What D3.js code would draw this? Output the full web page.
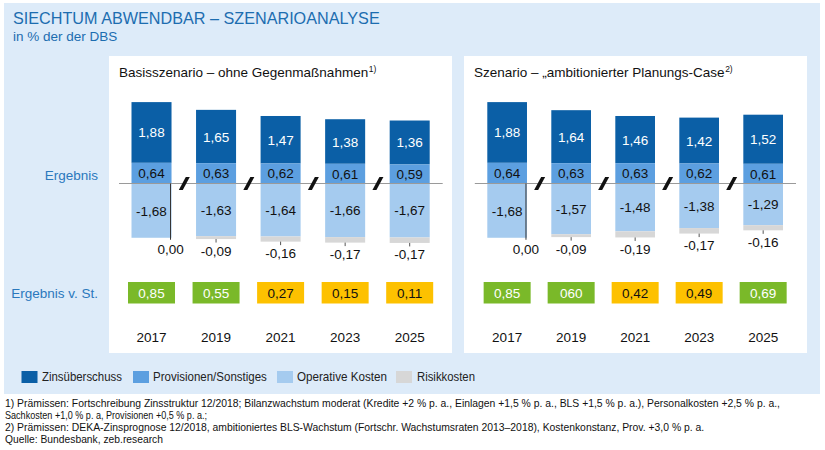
<!DOCTYPE html>
<html><head><meta charset="utf-8">
<script src="https://cdn.jsdelivr.net/npm/d3@7/dist/d3.min.js"></script>
<style>
html,body{margin:0;padding:0;background:#fff;}
svg{display:block;font-family:"Liberation Sans",Arial,sans-serif;}
</style></head>
<body>
<svg id="chart" width="825" height="450"></svg>
<script>
// ---------- DATA ----------
const years = ["2017", "2019", "2021", "2023", "2025"];

const zinsBase = [1.88, 1.65, 1.47, 1.38, 1.36];
const provBase = [0.64, 0.63, 0.62, 0.61, 0.59];
const opkBase  = [-1.68, -1.63, -1.64, -1.66, -1.67];
const riskBase = [0.00, -0.09, -0.16, -0.17, -0.17];
const resBase  = [0.85, 0.55, 0.27, 0.15, 0.11];
const resBaseLabels = ["0,85", "0,55", "0,27", "0,15", "0,11"];

const zinsAmb = [1.88, 1.64, 1.46, 1.42, 1.52];
const provAmb = [0.64, 0.63, 0.63, 0.62, 0.61];
const opkAmb  = [-1.68, -1.57, -1.48, -1.38, -1.29];
const riskAmb = [0.00, -0.09, -0.19, -0.17, -0.16];
const resAmb  = [0.85, 0.60, 0.42, 0.49, 0.69];
const resAmbLabels = ["0,85", "060", "0,42", "0,49", "0,69"];

const legendLabels = ["Zinsüberschuss", "Provisionen/Sonstiges", "Operative Kosten", "Risikkosten"];
const footnotes = [
  "1) Prämissen: Fortschreibung Zinsstruktur 12/2018; Bilanzwachstum moderat (Kredite +2 % p. a., Einlagen +1,5 % p. a., BLS +1,5 % p. a.), Personalkosten +2,5 % p. a.,",
  "Sachkosten +1,0 % p. a, Provisionen +0,5 % p. a.;",
  "2) Prämissen: DEKA-Zinsprognose 12/2018, ambitioniertes BLS-Wachstum (Fortschr. Wachstumsraten 2013–2018), Kostenkonstanz, Prov. +3,0 % p. a.",
  "Quelle: Bundesbank, zeb.research"
];

// ---------- STYLE ----------
const C = {
  zins: "#0b5fa6", prov: "#5c9fe0", opk: "#a5cbef", risk: "#d7d7d7",
  green: "#7ab929", yellow: "#fdc100", bg: "#ddebf9", blue: "#2a78bd", title: "#1c6db0"
};
const fmt = v => v.toFixed(2).replace(".", ",");

const svg = d3.select("#chart");

// squeeze a text horizontally to a target width (narrow-font look)
function squeeze(sel, x0, targetW) {
  const w = sel.node().getComputedTextLength();
  const k = Math.min(1, targetW / w);
  sel.attr("x", 0).attr("transform", `translate(${x0},0) scale(${k},1)`);
}

// outer background
svg.append("rect").attr("x", 4).attr("y", 3).attr("width", 816).attr("height", 391).attr("fill", C.bg);

svg.append("text").attr("x", 13).attr("y", 24).attr("font-size", 16.2).attr("fill", C.title)
  .text("SIECHTUM ABWENDBAR – SZENARIOANALYSE");
svg.append("text").attr("x", 13).attr("y", 41).attr("font-size", 13.5).attr("fill", C.title)
  .text("in % der der DBS");

// row labels
svg.append("text").attr("x", 98).attr("y", 180).attr("text-anchor", "end").attr("font-size", 13.5)
  .attr("fill", C.blue).text("Ergebnis");
svg.append("text").attr("x", 98).attr("y", 298).attr("text-anchor", "end").attr("font-size", 13.5)
  .attr("fill", C.blue).text("Ergebnis v. St.");

const y = d3.scaleLinear().domain([-2, 3]).range([183.5 + 2 * 32.3, 183.5 - 3 * 32.3]);

const panels = [
  { title: "Basisszenario – ohne Gegenmaßnahmen", sup: "1)", px: 109, pw: 343, range: [131.5, 429.7],
    zins: zinsBase, prov: provBase, opk: opkBase, risk: riskBase, res: resBase, resLabels: resBaseLabels },
  { title: "Szenario – „ambitionierter Planungs-Case", sup: "2)", px: 464, pw: 343, range: [487.3, 783],
    zins: zinsAmb, prov: provAmb, opk: opkAmb, risk: riskAmb, res: resAmb, resLabels: resAmbLabels }
];

panels.forEach(p => {
  const g = svg.append("g");
  g.append("rect").attr("x", p.px).attr("y", 56).attr("width", p.pw).attr("height", 297).attr("fill", "#fff");

  const t = g.append("text").attr("x", p.px + 10).attr("y", 77).attr("font-size", 13.5).attr("fill", "#111");
  t.append("tspan").text(p.title);
  t.append("tspan").attr("font-size", 8.5).attr("dy", -5).attr("dx", 0.5).text(p.sup);

  const x = d3.scaleBand().domain(years).range(p.range).paddingInner(0.38).paddingOuter(0);
  const bw = x.bandwidth();
  const idx = years.map((d, i) => i);

  // segments
  const seg = (cls, color, lo, hi) => {
    g.selectAll("rect." + cls).data(idx).join("rect").attr("class", cls)
      .attr("x", i => x(years[i])).attr("width", bw)
      .attr("y", i => y(hi(i))).attr("height", i => Math.max(0, y(lo(i)) - y(hi(i))))
      .attr("fill", color);
  };
  seg("zins", C.zins, i => p.prov[i], i => p.prov[i] + p.zins[i]);
  seg("prov", C.prov, i => 0, i => p.prov[i]);
  seg("opk", C.opk, i => p.opk[i], i => 0);
  seg("risk", C.risk, i => p.opk[i] + p.risk[i], i => p.opk[i]);

  // zero line
  g.append("line").attr("x1", p.range[0] - 12.5).attr("x2", p.range[1] + 13)
    .attr("y1", y(0)).attr("y2", y(0)).attr("stroke", "#9a9a9a").attr("stroke-width", 1);

  // segment labels
  const lab = (vals, center, color) => {
    g.selectAll(null).data(idx).join("text")
      .attr("x", i => x(years[i]) + bw / 2).attr("y", i => y(center(i)) + 5)
      .attr("text-anchor", "middle").attr("font-size", 13.5).attr("fill", color)
      .text(i => fmt(vals[i]));
  };
  lab(p.zins, i => p.prov[i] + p.zins[i] / 2, "#fff");
  lab(p.prov, i => p.prov[i] / 2, "#111");
  lab(p.opk, i => p.opk[i] / 2, "#111");

  // risk ticks / lines and labels
  idx.forEach(i => {
    const bottom = y(p.opk[i] + p.risk[i]);
    if (p.risk[i] === 0) {
      const lx = x(years[i]) + bw - 1;
      g.append("line").attr("x1", lx).attr("x2", lx).attr("y1", y(0)).attr("y2", bottom + 2)
        .attr("stroke", "#333").attr("stroke-width", 1);
      g.append("text").attr("x", lx).attr("y", bottom + 16).attr("text-anchor", "middle")
        .attr("font-size", 13.5).attr("fill", "#111").text(fmt(p.risk[i]));
    } else {
      const cx = x(years[i]) + bw / 2;
      g.append("line").attr("x1", cx).attr("x2", cx).attr("y1", bottom).attr("y2", bottom + 3.5)
        .attr("stroke", "#555").attr("stroke-width", 1);
      g.append("text").attr("x", cx).attr("y", bottom + 16.5).attr("text-anchor", "middle")
        .attr("font-size", 13.5).attr("fill", "#111").text(fmt(p.risk[i]));
    }
  });

  // break marks
  for (let i = 0; i < years.length - 1; i++) {
    const cx = (x(years[i]) + bw + x(years[i + 1])) / 2 + 0.5;
    const cy = y(0);
    g.append("polygon")
      .attr("points", [[cx - 5.5, cy + 6.5], [cx - 1.5, cy + 6.5], [cx + 5.5, cy - 6.5], [cx + 1.5, cy - 6.5]].map(d => d.join(",")).join(" "))
      .attr("fill", "#111");
  }

  // result boxes
  idx.forEach(i => {
    const cx = x(years[i]) + bw / 2;
    const good = p.res[i] >= 0.5;
    g.append("rect").attr("x", cx - 23.5).attr("y", 282).attr("width", 47).attr("height", 21.5)
      .attr("fill", good ? C.green : C.yellow);
    g.append("text").attr("x", cx).attr("y", 297.5).attr("text-anchor", "middle").attr("font-size", 13.5)
      .attr("fill", good ? "#fff" : "#111").text(p.resLabels[i]);
    g.append("text").attr("x", cx).attr("y", 341.5).attr("text-anchor", "middle").attr("font-size", 13.5)
      .attr("fill", "#111").text(years[i]);
  });
});

// legend
const legColors = [C.zins, C.prov, C.opk, C.risk];
const legSq = [21.5, 133, 277, 396];
const legTx = [42, 153, 297, 417];
const legW = [80, 114, 90, 58];
legendLabels.forEach((l, i) => {
  svg.append("rect").attr("x", legSq[i]).attr("y", 371).attr("width", 16).attr("height", 12).attr("fill", legColors[i]);
  const t = svg.append("text").attr("y", 381.5).attr("font-size", 13).attr("fill", "#222").text(l);
  squeeze(t, legTx[i], legW[i]);
});

// footnotes
const fnW = [776, 202, 700, 158];
const fnY = [407.5, 419.5, 431.5, 443.5];
footnotes.forEach((f, i) => {
  const t = svg.append("text").attr("y", fnY[i]).attr("font-size", 10.4).attr("fill", "#111").text(f);
  squeeze(t, 5, fnW[i]);
});
</script>
</body></html>
